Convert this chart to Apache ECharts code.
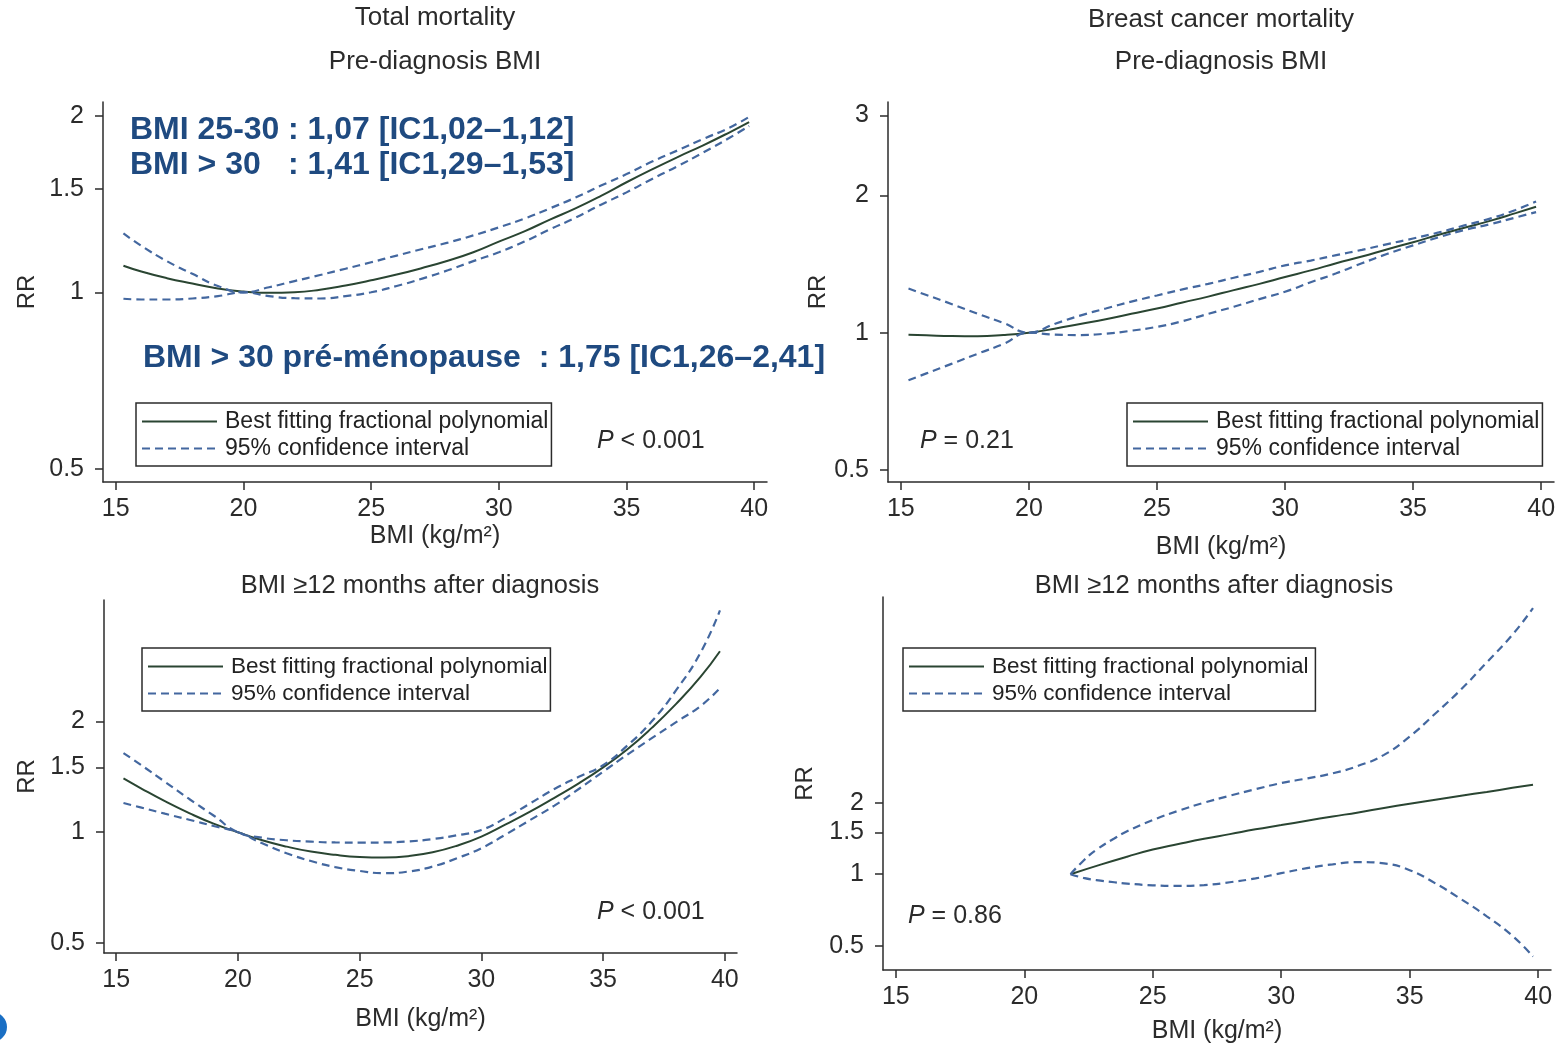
<!DOCTYPE html>
<html>
<head>
<meta charset="utf-8">
<title>BMI et mortalité</title>
<script src="https://cdn.jsdelivr.net/npm/echarts@6/dist/echarts.min.js"></script>
<style>
  html, body { margin: 0; padding: 0; background: #fff; }
  #chart { width: 1558px; height: 1048px; }
</style>
</head>
<body>
<div id="chart"></div>
<script>
const bmiGrid = [15.3, 16, 17, 18, 19, 20, 21, 22, 23, 24, 25, 26, 27, 28, 29, 30, 31, 32, 33, 34, 35, 36, 37, 38, 39, 39.8]

// top left: total mortality, pre-diagnosis BMI
const p1Bmi = bmiGrid
const p1Fit = [1.11, 1.085, 1.057, 1.035, 1.015, 1.003, 0.998, 1.0, 1.01, 1.027, 1.048, 1.072, 1.10, 1.132, 1.17, 1.22, 1.27, 1.33, 1.39, 1.46, 1.54, 1.62, 1.70, 1.78, 1.87, 1.95]
const p1Upper = [1.26, 1.20, 1.13, 1.075, 1.025, 1.0, 1.02, 1.045, 1.07, 1.097, 1.125, 1.155, 1.185, 1.215, 1.25, 1.29, 1.335, 1.39, 1.45, 1.52, 1.59, 1.67, 1.745, 1.825, 1.905, 1.99]
const p1Lower = [0.975, 0.972, 0.972, 0.976, 0.985, 1.0, 0.985, 0.977, 0.976, 0.985, 1.0, 1.025, 1.055, 1.09, 1.13, 1.17, 1.22, 1.28, 1.34, 1.41, 1.48, 1.56, 1.64, 1.73, 1.83, 1.92]

// top right: breast cancer mortality, pre-diagnosis BMI
const p2Bmi = bmiGrid
const p2Fit = [0.99, 0.987, 0.983, 0.982, 0.988, 1.0, 1.02, 1.045, 1.07, 1.10, 1.13, 1.165, 1.20, 1.24, 1.28, 1.325, 1.37, 1.42, 1.47, 1.525, 1.58, 1.64, 1.70, 1.76, 1.83, 1.89]
const p2Upper = [1.25, 1.21, 1.155, 1.10, 1.051, 1.0, 1.045, 1.09, 1.13, 1.17, 1.207, 1.245, 1.28, 1.32, 1.36, 1.405, 1.44, 1.48, 1.52, 1.565, 1.61, 1.66, 1.72, 1.78, 1.86, 1.94]
const p2Lower = [0.786, 0.814, 0.855, 0.899, 0.944, 1.0, 0.99, 0.988, 0.995, 1.01, 1.03, 1.06, 1.10, 1.14, 1.185, 1.23, 1.29, 1.35, 1.42, 1.49, 1.555, 1.62, 1.68, 1.73, 1.79, 1.84]

// bottom left: total mortality, BMI >= 12 months after diagnosis
const p3Bmi = bmiGrid
const p3Fit = [1.40, 1.318, 1.214, 1.127, 1.055, 1.0, 0.951, 0.914, 0.886, 0.868, 0.857, 0.854, 0.861, 0.882, 0.919, 0.973, 1.05, 1.137, 1.24, 1.357, 1.5, 1.68, 1.92, 2.23, 2.64, 3.1]
const p3Upper = [1.64, 1.526, 1.371, 1.231, 1.11, 1.0, 0.966, 0.951, 0.943, 0.938, 0.937, 0.938, 0.944, 0.958, 0.981, 1.014, 1.094, 1.197, 1.31, 1.414, 1.52, 1.72, 2.0, 2.43, 3.07, 4.0]
const p3Lower = [1.20, 1.168, 1.123, 1.081, 1.04, 1.0, 0.933, 0.877, 0.835, 0.804, 0.785, 0.774, 0.782, 0.807, 0.85, 0.905, 0.986, 1.079, 1.181, 1.31, 1.46, 1.625, 1.8, 1.99, 2.2, 2.46]

// bottom right: breast cancer mortality, BMI >= 12 months after diagnosis
const p4FitBmi = [21.8, 23, 24, 25, 26, 27, 28, 29, 30, 31, 32, 33, 34, 35, 36, 37, 38, 39, 39.8]
const p4Fit = [1.0, 1.10, 1.185, 1.27, 1.34, 1.41, 1.475, 1.545, 1.61, 1.68, 1.75, 1.82, 1.90, 1.98, 2.06, 2.14, 2.22, 2.31, 2.38]
const p4CiBmi = [21.8, 22.3, 22.8, 23.5, 24, 25, 26, 27, 28, 29, 30, 31, 32, 33, 34, 35, 36, 37, 38, 39, 39.8]
const p4Upper = [1.0, 1.14, 1.266, 1.414, 1.516, 1.69, 1.85, 2.0, 2.14, 2.28, 2.42, 2.53, 2.66, 2.86, 3.18, 3.8, 4.75, 6.0, 7.8, 10.2, 13.2]
const p4Lower = [1.0, 0.965, 0.945, 0.925, 0.913, 0.898, 0.893, 0.9, 0.925, 0.96, 1.01, 1.06, 1.10, 1.125, 1.11, 1.04, 0.915, 0.785, 0.665, 0.55, 0.45]

const xTicks = [15, 20, 25, 30, 35, 40]
const yTicksA = [0.5, 1, 1.5, 2]
const yTicksB = [0.5, 1, 2, 3]

const FIT = 'Best fitting fractional polynomial'
const CI = '95% confidence interval'
const FONT = 'Arial, "Liberation Sans", sans-serif'
const INK = '#2b2b2b'
const GREEN = '#2a4532'
const BLUE = '#43679f'

const pts = (xs, ys) => xs.map((x, i) => [x, ys[i]])

const makeSeries = (idx, fitX, fit, ciX, upper, lower) => [
  { name: FIT, type: 'line', xAxisIndex: idx, yAxisIndex: idx, data: pts(fitX, fit),
    smooth: true, symbol: 'none', color: GREEN, lineStyle: { color: GREEN, width: 2 } },
  { name: CI, type: 'line', xAxisIndex: idx, yAxisIndex: idx, data: pts(ciX, upper),
    smooth: true, symbol: 'none', color: BLUE, lineStyle: { color: BLUE, width: 2.2, type: [8, 5] } },
  { name: CI, type: 'line', xAxisIndex: idx, yAxisIndex: idx, data: pts(ciX, lower),
    smooth: true, symbol: 'none', color: BLUE, lineStyle: { color: BLUE, width: 2.2, type: [8, 5] } }
]

const makeX = (idx, nameGap) => ({
  type: 'value', gridIndex: idx, min: 14.5, max: 40.5,
  name: 'BMI (kg/m²)', nameLocation: 'middle', nameGap: nameGap,
  nameTextStyle: { fontSize: 25, color: INK, fontFamily: FONT },
  axisLine: { lineStyle: { color: INK, width: 1.5 } },
  axisTick: { customValues: xTicks, length: 8, lineStyle: { color: INK, width: 1.5 } },
  axisLabel: { customValues: xTicks, margin: 15, fontSize: 25, color: INK, fontFamily: FONT },
  splitLine: { show: false }
})

const makeY = (idx, min, max, ticks, nameGap) => ({
  type: 'log', gridIndex: idx, min: min, max: max,
  name: 'RR', nameLocation: 'middle', nameGap: nameGap, nameRotate: 90,
  nameTextStyle: { fontSize: 24, color: INK, fontFamily: FONT },
  axisLine: { show: true, lineStyle: { color: INK, width: 1.5 } },
  axisTick: { show: true, customValues: ticks, length: 8, lineStyle: { color: INK, width: 1.5 } },
  axisLabel: { customValues: ticks, margin: 19, fontSize: 25, color: INK, fontFamily: FONT,
    formatter: v => String(+(+v).toFixed(2)) },
  splitLine: { show: false }, minorTick: { show: false }
})

const makeLegend = (left, top, size, padRight) => ({
  left: left, top: top, orient: 'vertical', data: [FIT, CI], selectedMode: false,
  itemWidth: 75, itemHeight: 14, itemGap: 4, padding: [7, padRight, 6, 5],
  borderColor: INK, borderWidth: 1.5,
  itemStyle: { opacity: 0 },
  textStyle: { fontSize: size, color: '#222', fontFamily: FONT, padding: [0, 0, 0, 3] }
})

const label = (x, y, text, size, extra) => ({
  type: 'text', x: x, y: y, silent: true,
  style: Object.assign({ text: text, font: size + 'px ' + FONT, fill: INK,
    align: 'center', verticalAlign: 'middle' }, extra || {})
})

const pText = (x, y, rest) => ({
  type: 'text', x: x, y: y, silent: true,
  style: {
    text: '{i|P}' + rest, fill: INK, align: 'left', verticalAlign: 'middle',
    font: '25px ' + FONT,
    rich: { i: { fontStyle: 'italic', fontSize: 25, fontFamily: FONT, fill: INK } }
  }
})

const BLUE_TXT = '#1f4a80'
const note = (x, y, text) => label(x, y, text, 32, {
  fill: BLUE_TXT, align: 'left', font: 'bold 32px ' + FONT
})

const chart = echarts.init(document.getElementById('chart'))
chart.setOption({
  animation: false,
  backgroundColor: '#fff',
  grid: [
    { left: 103, top: 102, width: 664, height: 380, outerBoundsMode: 'none' },
    { left: 888, top: 102, width: 666, height: 380, outerBoundsMode: 'none' },
    { left: 104, top: 600, width: 633, height: 353, outerBoundsMode: 'none' },
    { left: 883, top: 597, width: 668, height: 373, outerBoundsMode: 'none' }
  ],
  xAxis: [makeX(0, 42), makeX(1, 53), makeX(2, 54), makeX(3, 49)],
  yAxis: [
    makeY(0, 0.475, 2.11, yTicksA, 64),
    makeY(1, 0.47, 3.21, yTicksB, 51),
    makeY(2, 0.47, 4.27, yTicksA, 65),
    makeY(3, 0.395, 14.7, yTicksA, 66)
  ],
  legend: [
    makeLegend(136, 403, 23, 3),
    makeLegend(1127, 403, 23, 3),
    makeLegend(142, 648, 22.5, 3),
    makeLegend(903, 648, 22.5, 7)
  ],
  series: [
    ...makeSeries(0, p1Bmi, p1Fit, p1Bmi, p1Upper, p1Lower),
    ...makeSeries(1, p2Bmi, p2Fit, p2Bmi, p2Upper, p2Lower),
    ...makeSeries(2, p3Bmi, p3Fit, p3Bmi, p3Upper, p3Lower),
    ...makeSeries(3, p4FitBmi, p4Fit, p4CiBmi, p4Upper, p4Lower)
  ],
  graphic: [
    label(435, 18, 'Total mortality', 26),
    label(435, 62, 'Pre-diagnosis BMI', 26),
    label(1221, 20, 'Breast cancer mortality', 26),
    label(1221, 62, 'Pre-diagnosis BMI', 26),
    label(420, 586, 'BMI ≥12 months after diagnosis', 25.5),
    label(1214, 586, 'BMI ≥12 months after diagnosis', 25.5),
    pText(597, 441, ' < 0.001'),
    pText(920, 441, ' = 0.21'),
    pText(597, 912, ' < 0.001'),
    pText(908, 916, ' = 0.86'),
    note(130, 130, 'BMI 25-30'),
    note(288, 130, ': 1,07 [IC1,02–1,12]'),
    note(130, 165, 'BMI > 30'),
    note(288, 165, ': 1,41 [IC1,29–1,53]'),
    note(143, 358, 'BMI > 30 pré-ménopause  : 1,75 [IC1,26–2,41]'),
    { type: 'circle', shape: { cx: -8, cy: 1027, r: 15 }, style: { fill: '#1a6fc4' }, silent: true }
  ]
})
</script>
</body>
</html>
